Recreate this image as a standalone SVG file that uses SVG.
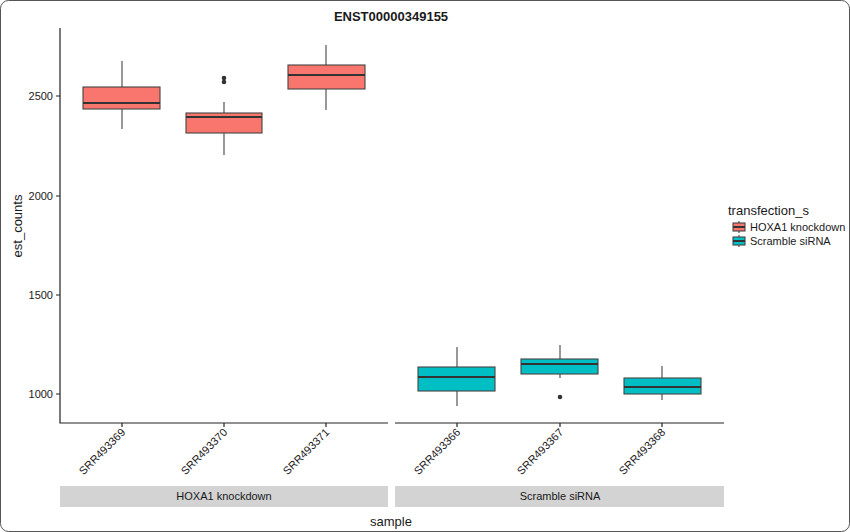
<svg xmlns="http://www.w3.org/2000/svg" width="850" height="532" viewBox="0 0 850 532">
<style>
text{font-family:"Liberation Sans",Arial,sans-serif;fill:#1a1a1a}
.ax{stroke:#222;stroke-width:1.2;fill:none}
.wh{stroke:#444;stroke-width:1.1}
.r{fill:#f8766d;stroke:#444;stroke-width:1.1}
.c{fill:#00bfc4;stroke:#444;stroke-width:1.1}
.md{stroke:#333;stroke-width:2}
.tl{font-size:11px;text-anchor:end}
.st{fill:#d3d3d3}
</style>
<rect x="0.5" y="0.5" width="849" height="531" rx="8" fill="#fff" stroke="#555"/>
<text x="391" y="21" font-size="13" font-weight="bold" text-anchor="middle">ENST00000349155</text>
<g id="axes">
<path class="ax" d="M60 28V423H388M395 423H724"/>
<path class="ax" d="M56 96H60M56 196H60M56 295H60M56 394H60M122 423v4M224 423v4M326 423v4M457 423v4M560 423v4M662 423v4"/>
<g font-size="11" text-anchor="end"><text x="53" y="100">2500</text><text x="53" y="200">2000</text><text x="53" y="299">1500</text><text x="53" y="398">1000</text></g>
<text transform="translate(22 226) rotate(-90)" font-size="13" text-anchor="middle">est_counts</text>
<text x="391" y="526" font-size="13" text-anchor="middle">sample</text>
<rect class="st" x="60" y="486" width="328" height="21"/>
<rect class="st" x="395" y="486" width="329" height="21"/>
<text x="224" y="500" font-size="11" text-anchor="middle">HOXA1 knockdown</text>
<text x="560" y="500" font-size="11" text-anchor="middle">Scramble siRNA</text>
<g class="tl">
<text transform="translate(126 433) rotate(-45)">SRR493369</text>
<text transform="translate(228 433) rotate(-45)">SRR493370</text>
<text transform="translate(330 433) rotate(-45)">SRR493371</text>
<text transform="translate(461 433) rotate(-45)">SRR493366</text>
<text transform="translate(564 433) rotate(-45)">SRR493367</text>
<text transform="translate(666 433) rotate(-45)">SRR493368</text>
</g>
</g>
<g id="box1"><path class="wh" d="M122 61V129"/><rect class="r" x="83" y="87" width="77" height="22"/><path class="md" d="M83 103H160"/></g>
<g id="box2"><path class="wh" d="M224 102V155"/><rect class="r" x="186" y="113" width="76" height="20"/><path class="md" d="M186 117H262"/><circle cx="224" cy="78" r="2.3" fill="#333"/><circle cx="224" cy="82" r="2.3" fill="#333"/></g>
<g id="box3"><path class="wh" d="M326 45V110"/><rect class="r" x="288" y="65" width="77" height="24"/><path class="md" d="M288 75H365"/></g>
<g id="box4"><path class="wh" d="M457 347V406"/><rect class="c" x="418" y="367" width="77" height="24"/><path class="md" d="M418 377H495"/></g>
<g id="box5"><path class="wh" d="M560 345V378"/><rect class="c" x="521" y="359" width="77" height="15"/><path class="md" d="M521 364H598"/><circle cx="560" cy="397" r="2.3" fill="#333"/></g>
<g id="box6"><path class="wh" d="M662 366V400"/><rect class="c" x="624" y="378" width="77" height="16"/><path class="md" d="M624 387H701"/></g>
<g id="legend">
<text x="728" y="215" font-size="13">transfection_s</text>
<path class="wh" d="M739 221V233"/><rect class="r" x="733" y="223" width="12" height="8"/><path class="md" d="M733 227H745" stroke-width="1.2"/>
<path class="wh" d="M739 235V247"/><rect class="c" x="733" y="237" width="12" height="8"/><path class="md" d="M733 241H745" stroke-width="1.2"/>
<text x="750" y="231" font-size="11">HOXA1 knockdown</text>
<text x="750" y="245" font-size="11">Scramble siRNA</text>
</g>
</svg>
